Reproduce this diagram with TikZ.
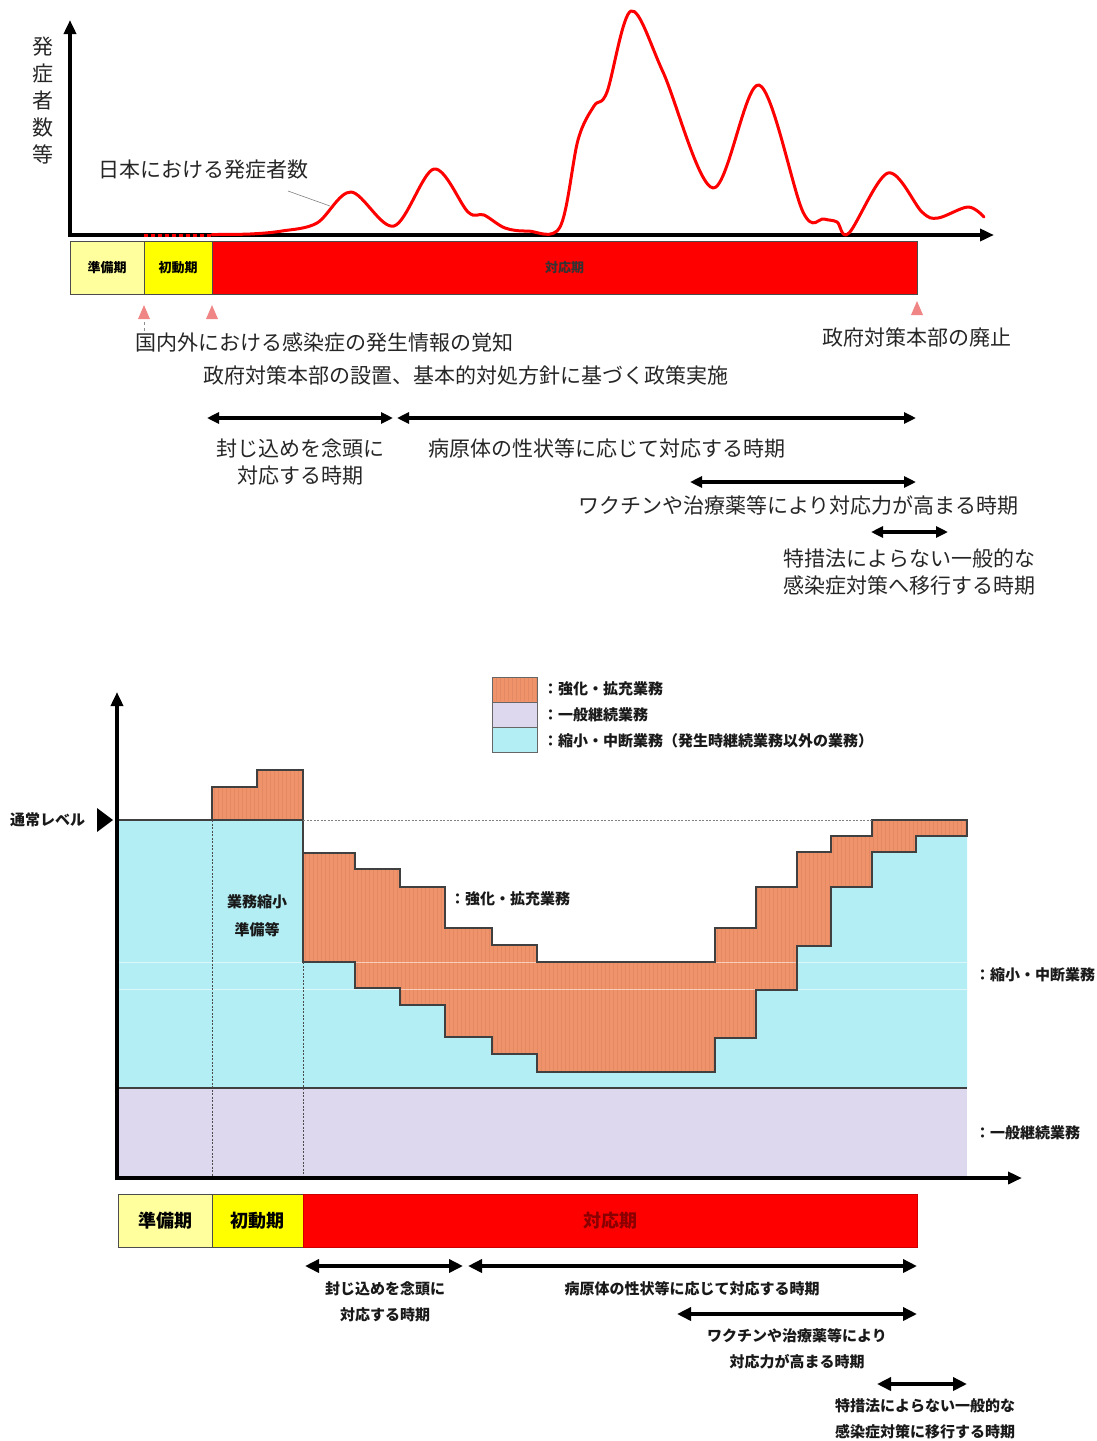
\documentclass[tikz,border=0pt]{standalone}
\usepackage{fontspec}
\setmainfont{Noto Sans CJK JP}
\usetikzlibrary{arrows.meta}
\definecolor{orng}{HTML}{F0936A}
\definecolor{cyanf}{HTML}{B2EEF4}
\definecolor{purp}{HTML}{DDD8EE}
\definecolor{ly}{HTML}{FFFF9E}
\definecolor{yl}{HTML}{FFFF00}
\definecolor{rd}{HTML}{FF0000}
\definecolor{pinkt}{HTML}{F08585}
\definecolor{dred}{HTML}{8A0000}
\tikzset{
  ax/.style={line width=4pt, -{Triangle[length=14pt,width=12pt]}},
  dbl/.style={line width=3.4pt, {Triangle[length=12pt,width=11pt]}-{Triangle[length=12pt,width=11pt]}},
  dblb/.style={line width=3.6pt, {Triangle[length=14pt,width=13pt]}-{Triangle[length=14pt,width=13pt]}},
  tt/.style={font=\fontsize{21}{27}\selectfont, inner sep=0pt, text=black!85, align=center},
  bt/.style={font=\fontsize{15}{26}\selectfont\bfseries, inner sep=0pt, align=center, text=black!90},
  phase/.style={draw=black!70, line width=0.8pt, minimum height=53pt, inner sep=0pt, outer sep=0pt, anchor=north west},
  tph/.style={phase, font=\fontsize{13}{15}\selectfont\bfseries},
  bph/.style={phase, font=\fontsize{18}{20}\selectfont\bfseries},
  swatch/.style={draw=black!60, line width=0.8pt, minimum width=45pt, minimum height=25pt, inner sep=0pt, outer sep=0pt, anchor=north west},
  edge/.style={draw=black!75, line width=1.1pt},
  stripe/.style={draw=orng!80!black, opacity=0.3, line width=0.5pt},
}
\def\orbox{(212,820) -- (212,787) -- (257,787) -- (257,770) -- (303,770) -- (303,820) -- cycle}
\def\ormain{(303,853) -- (355,853) -- (355,869) -- (400,869) -- (400,887) -- (445,887)
 -- (445,928) -- (492,928) -- (492,945) -- (537,945) -- (537,962) -- (715,962) -- (715,928)
 -- (756,928) -- (756,887) -- (797,887) -- (797,852) -- (831,852) -- (831,836) -- (872,836)
 -- (872,820) -- (967,820) -- (967,836) -- (916,836) -- (916,852) -- (872,852) -- (872,887)
 -- (831,887) -- (831,946) -- (797,946) -- (797,990) -- (756,990) -- (756,1038) -- (715,1038)
 -- (715,1072) -- (537,1072) -- (537,1054) -- (492,1054) -- (492,1037) -- (445,1037) -- (445,1005)
 -- (400,1005) -- (400,988) -- (355,988) -- (355,962) -- (303,962) -- cycle}
\begin{document}
\begin{tikzpicture}[x=1pt,y=-1pt]
\useasboundingbox (0,0) rectangle (1096,1441);

% ================= TOP CHART =================
\coordinate (o1) at (70,237);
\coordinate (ytop1) at (70,20);
\coordinate (x0) at (68,235);
\coordinate (xend1) at (994,235);
\draw[ax] (o1) -- (ytop1);
\draw[ax] (x0) -- (xend1);
\draw[rd, line width=3pt, dash pattern=on 4pt off 3pt] (144,235) -- (212,235);

\draw[rd, line width=3pt, line join=round, line cap=round] plot[smooth, tension=0.55] coordinates {
(212,234.5) (250,234) (282,231) (317,223) (351,192) (394,226) (434,169) (468,212)
(484,215) (505,228) (528,231) (560,227) (578,140) (594,106) (607,92) (631,11) (663,72)
(713,188) (759,85) (803,212) (824,219) (837,222) (849,233) (888,173) (922,212) (938,218) (968,207) (984,217)};

\node[tt] (ylab) at (43,101) {発\\症\\者\\数\\等};
\node[tt, anchor=west] (curvelab) at (98,170) {日本における発症者数};
\coordinate (leadend) at (330,206);
\draw[black!50, line width=0.6pt] (288,191) -- (leadend);

\node[tph, fill=ly, minimum width=74pt] (tp1) at (70,241) {準備期};
\node[tph, fill=yl, minimum width=68pt] (tp2) at (144,241) {初動期};
\node[tph, fill=rd, minimum width=705pt, text=black!80] (tp3) at (212,241) {対応期};

\fill[pinkt] (138,319) -- (144,305) -- (150,319) -- cycle;
\fill[pinkt] (206,319) -- (212,305) -- (218,319) -- cycle;
\fill[pinkt] (911,315) -- (917,301) -- (923,315) -- cycle;
\draw[black!45, line width=0.8pt, dashed] (144,322) -- (144,332);

\node[tt, anchor=west] (t1) at (135,343) {国内外における感染症の発生情報の覚知};
\node[tt, anchor=west] (t2) at (203,376) {政府対策本部の設置、基本的対処方針に基づく政策実施};
\node[tt, anchor=west] (t3) at (822,338) {政府対策本部の廃止};

\coordinate (a1l) at (207,418); \coordinate (a1r) at (393,418);
\coordinate (a2l) at (397,418); \coordinate (a2r) at (916,418);
\coordinate (a3l) at (690,482); \coordinate (a3r) at (916,482);
\coordinate (a4l) at (871,532); \coordinate (a4r) at (948,532);
\draw[dbl] (a1l) -- (a1r);
\draw[dbl] (a2l) -- (a2r);
\draw[dbl] (a3l) -- (a3r);
\draw[dbl] (a4l) -- (a4r);

\node[tt] (p1) at (300,462) {封じ込めを念頭に\\対応する時期};
\node[tt, anchor=west] (p2) at (428,449) {病原体の性状等に応じて対応する時期};
\node[tt, anchor=west] (p3) at (578,505) {ワクチンや治療薬等により対応力が高まる時期};
\node[tt, anchor=north west, align=left] (p4) at (783,549) {特措法によらない一般的な\\感染症対策へ移行する時期};

% ================= BOTTOM CHART =================
% legend
\node[swatch, fill=orng] (lg1) at (492,677) {};
\node[swatch, fill=purp] (lg2) at (492,702) {};
\node[swatch, fill=cyanf] (lg3) at (492,727) {};
\foreach \x in {496,500,...,536} \draw[stripe] (\x,678) -- (\x,701);
\node[bt, anchor=west] (lt1) at (543,689) {：強化・拡充業務};
\node[bt, anchor=west] (lt2) at (543,715) {：一般継続業務};
\node[bt, anchor=west] (lt3) at (543,741) {：縮小・中断業務（発生時継続業務以外の業務）};

% purple band
\fill[purp] (117,1088) rectangle (967,1176);
% blue region
\fill[cyanf] (117,820) -- (303,820) -- (303,962) -- (355,962) -- (355,988) -- (400,988) -- (400,1005)
 -- (445,1005) -- (445,1037) -- (492,1037) -- (492,1054) -- (537,1054) -- (537,1072) -- (715,1072)
 -- (715,1038) -- (756,1038) -- (756,990) -- (797,990) -- (797,946) -- (831,946) -- (831,887)
 -- (872,887) -- (872,852) -- (916,852) -- (916,836) -- (967,836) -- (967,1088) -- (117,1088) -- cycle;
% orange regions with vertical stripe texture
\fill[orng] \orbox;
\fill[orng] \ormain;
\begin{scope}
  \clip \orbox;
  \foreach \x in {214,218,...,303} \draw[stripe] (\x,765) -- (\x,822);
\end{scope}
\begin{scope}
  \clip \ormain;
  \foreach \x in {305,309,...,967} \draw[stripe] (\x,815) -- (\x,1075);
\end{scope}
% faint scan lines
\draw[white, opacity=0.55, line width=0.6pt] (119,962) -- (967,962);
\draw[white, opacity=0.55, line width=0.6pt] (119,989) -- (967,989);
\draw[edge] \orbox;
\draw[edge] \ormain;
% level lines
\draw[edge] (117,820) -- (303,820);
\draw[edge] (303,820) -- (303,853);
\draw[black!50, line width=0.6pt, dash pattern=on 2pt off 1.5pt] (303,820) -- (872,820);
\draw[edge] (117,1088) -- (967,1088);
\draw[black!70, line width=0.7pt, dash pattern=on 2pt off 1.5pt] (212,820) -- (212,1176);
\draw[black!70, line width=0.7pt, dash pattern=on 2pt off 1.5pt] (303,962) -- (303,1176);

% axes
\coordinate (o2) at (117,1180);
\coordinate (ytop2) at (117,692);
\coordinate (x02) at (115,1178);
\coordinate (xend2) at (1022,1178);
\draw[ax] (o2) -- (ytop2);
\draw[ax] (x02) -- (xend2);

% labels
\fill[black] (97,808) -- (113,820) -- (97,832) -- cycle;
\node[bt, anchor=west] (lvl) at (10,820) {通常レベル};
\node[bt, font=\fontsize{15}{28}\selectfont\bfseries] (prep) at (257,916) {業務縮小\\準備等};
\node[bt, anchor=west] (c1) at (450,899) {：強化・拡充業務};
\node[bt, anchor=west] (c2) at (975,975) {：縮小・中断業務};
\node[bt, anchor=west] (c3) at (975,1133) {：一般継続業務};

% phase bar
\node[bph, fill=ly, minimum width=94pt] (bp1) at (118,1194) {準備期};
\node[bph, fill=yl, minimum width=91pt] (bp2) at (212,1194) {初動期};
\node[bph, fill=rd, draw=rd!80!black, minimum width=614pt, text=dred] (bp3) at (303,1194) {対応期};

\coordinate (b1l) at (305,1266); \coordinate (b1r) at (463,1266);
\coordinate (b2l) at (468,1266); \coordinate (b2r) at (917,1266);
\coordinate (b3l) at (677,1314); \coordinate (b3r) at (917,1314);
\coordinate (b4l) at (877,1384); \coordinate (b4r) at (967,1384);
\draw[dblb] (b1l) -- (b1r);
\draw[dblb] (b2l) -- (b2r);
\draw[dblb] (b3l) -- (b3r);
\draw[dblb] (b4l) -- (b4r);

\node[bt] (q1) at (385,1302) {封じ込めを念頭に\\対応する時期};
\node[bt] (q2) at (692,1289) {病原体の性状等に応じて対応する時期};
\node[bt] (q3) at (797,1349) {ワクチンや治療薬等により\\対応力が高まる時期};
\node[bt] (q4) at (925,1419) {特措法によらない一般的な\\感染症対策に移行する時期};
\end{tikzpicture}
\end{document}
